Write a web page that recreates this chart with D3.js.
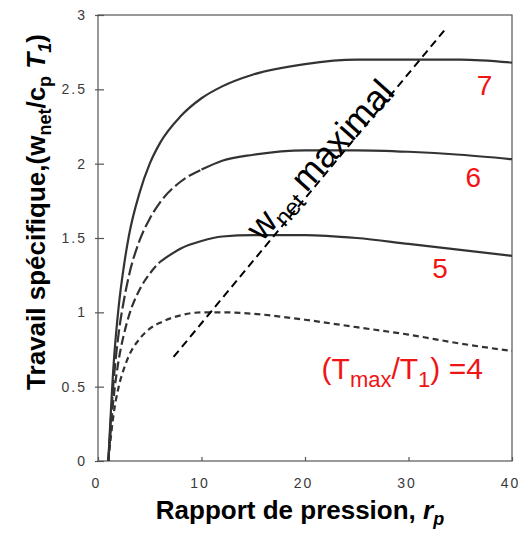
<!DOCTYPE html>
<html>
<head>
<meta charset="utf-8">
<script src="https://cdn.jsdelivr.net/npm/d3@7/dist/d3.min.js"></script>
<style>
    body { margin: 0; background: #fff; }
    svg { display: block; font-family: Arial, "Liberation Sans", sans-serif; }
    .tick text { fill: #3a3a3a; font-size: 14px; letter-spacing: 2px; }
</style>
</head>
<body>
<div class="chart"></div>
<script>
/* global d3 */

const rpValues = [1, 1.5, 2, 2.5, 3, 4, 5, 6, 8, 10, 12, 15, 20, 25, 30, 35, 40];
const work7 = [0, 0.64, 1.04, 1.31, 1.52, 1.80, 2.00, 2.14, 2.32, 2.44, 2.52, 2.60, 2.67, 2.70, 2.70, 2.70, 2.68];
const work6 = [0, 0.53, 0.86, 1.08, 1.25, 1.48, 1.63, 1.74, 1.88, 1.96, 2.02, 2.06, 2.09, 2.09, 2.08, 2.06, 2.03];
const work5 = [0, 0.42, 0.68, 0.85, 0.98, 1.15, 1.26, 1.34, 1.43, 1.48, 1.51, 1.52, 1.52, 1.50, 1.46, 1.42, 1.38];
const work4 = [0, 0.31, 0.50, 0.62, 0.71, 0.82, 0.89, 0.93, 0.98, 1.00, 1.00, 0.99, 0.95, 0.90, 0.85, 0.79, 0.74];

const ratioLabels = ['7', '6', '5'];
const ratioLabelPos = [[36.6, 2.46], [35.5, 1.84], [32.3, 1.23]];

const optimumLine = [[7.3, 0.70], [33.5, 2.90]];

const xTicks = [0, 10, 20, 30, 40];
const yTicks = [0, 0.5, 1, 1.5, 2, 2.5, 3];

const W = 530;
const H = 538;
const margin = {top: 15, right: 18, bottom: 77, left: 98};

let $svg;
let x;
let y;

function setupDOM(){
    $svg = d3.select('.chart')
        .append('svg')
        .attr('width', W)
        .attr('height', H);

    x = d3.scaleLinear().domain([0, 40]).range([margin.left, W - margin.right]);
    y = d3.scaleLinear().domain([0, 3]).range([H - margin.bottom, margin.top]);
}

function drawAxes(){
    // frame
    $svg.append('rect')
        .attr('x', x(0))
        .attr('y', y(3))
        .attr('width', x(40) - x(0))
        .attr('height', y(0) - y(3))
        .attr('fill', 'none')
        .attr('stroke', '#555')
        .attr('stroke-width', 1.2);

    const $yAxis = $svg.append('g')
        .attr('transform', `translate(${x(0)},0)`)
        .call(d3.axisLeft(y).tickValues(yTicks).tickSize(0).tickPadding(11)
            .tickFormat(d3.format('')));
    $yAxis.select('.domain').remove();
    $yAxis.selectAll('.tick')
        .append('line')
        .attr('x1', -3)
        .attr('x2', 6)
        .attr('stroke', '#555')
        .attr('stroke-width', 1.2);

    const $xAxis = $svg.append('g')
        .attr('transform', `translate(0,${y(0)})`)
        .call(d3.axisBottom(x).tickValues(xTicks).tickSize(-4).tickPadding(17));
    $xAxis.select('.domain').remove();
    $xAxis.selectAll('.tick line').attr('stroke', '#555').attr('stroke-width', 1.2);
    $xAxis.selectAll('.tick text').attr('dx', -2);

    // axis titles
    const $xTitle = $svg.append('text')
        .attr('x', 300)
        .attr('y', 519)
        .attr('text-anchor', 'middle')
        .attr('font-size', 26)
        .attr('font-weight', 'bold')
        .attr('fill', '#000');
    $xTitle.append('tspan').text('Rapport de pression, ');
    $xTitle.append('tspan').attr('font-style', 'italic').text('r');
    $xTitle.append('tspan').attr('font-style', 'italic').attr('font-size', 18).attr('dy', 6).text('p');

    const $yTitle = $svg.append('text')
        .attr('transform', 'translate(45,212) rotate(-90)')
        .attr('text-anchor', 'middle')
        .attr('font-size', 26)
        .attr('font-weight', 'bold')
        .attr('fill', '#000');
    $yTitle.append('tspan').text('Travail spécifique,(w');
    $yTitle.append('tspan').attr('font-size', 18).attr('dy', 6).text('net');
    $yTitle.append('tspan').attr('dy', -6).text('/c');
    $yTitle.append('tspan').attr('font-size', 18).attr('dy', 6).text('p');
    $yTitle.append('tspan').attr('dy', -6).attr('font-style', 'italic').text(' T');
    $yTitle.append('tspan').attr('font-size', 18).attr('dy', 6).attr('font-style', 'italic').text('1');
    $yTitle.append('tspan').attr('dy', -6).text(')');
}

function drawCurves(){
    const line = d3.line()
        .x(d => x(d[0]))
        .y(d => y(d[1]))
        .curve(d3.curveMonotoneX);

    // each curve: values, rp where the dash stops, dash pattern
    const curves = [
        {values: work7, split: 1, dash: null},
        {values: work6, split: 10, dash: '13,4'},
        {values: work5, split: 6, dash: '9,4'},
        {values: work4, split: 40, dash: '6,4'}
    ];

    curves.forEach(c => {
        const pts = rpValues.map((rp, i) => [rp, c.values[i]]);
        const dashed = pts.filter(p => p[0] <= c.split);
        const solid = pts.filter(p => p[0] >= c.split);

        if (dashed.length > 1) {
            $svg.append('path')
                .attr('d', line(dashed))
                .attr('fill', 'none')
                .attr('stroke', '#333')
                .attr('stroke-width', 2.2)
                .attr('stroke-dasharray', c.dash);
        }
        if (solid.length > 1) {
            $svg.append('path')
                .attr('d', line(solid))
                .attr('fill', 'none')
                .attr('stroke', '#333')
                .attr('stroke-width', 2.2);
        }
    });

    $svg.append('path')
        .attr('d', d3.line().x(d => x(d[0])).y(d => y(d[1]))(optimumLine))
        .attr('fill', 'none')
        .attr('stroke', '#000')
        .attr('stroke-width', 2)
        .attr('stroke-dasharray', '8,5');
}

function drawLabels(){
    $svg.selectAll('.ratio-label')
        .data(ratioLabels)
        .enter()
        .append('text')
        .attr('class', 'ratio-label')
        .attr('x', (d, i) => x(ratioLabelPos[i][0]))
        .attr('y', (d, i) => y(ratioLabelPos[i][1]))
        .attr('font-size', 28)
        .attr('fill', '#f01414')
        .text(d => d);

    const $four = $svg.append('text')
        .attr('x', x(21.6))
        .attr('y', y(0.55))
        .attr('font-size', 30)
        .attr('fill', '#f01414');
    $four.append('tspan').text('(T');
    $four.append('tspan').attr('font-size', 22).attr('dy', 8).text('max');
    $four.append('tspan').attr('dy', -8).text('/T');
    $four.append('tspan').attr('font-size', 22).attr('dy', 8).text('1');
    $four.append('tspan').attr('dy', -8).text(') =4');

    const $wmax = $svg.append('text')
        .attr('transform', `translate(${x(15.85)},${y(1.47)}) rotate(-48)`)
        .attr('font-size', 36)
        .attr('fill', '#000');
    $wmax.append('tspan').text('w');
    $wmax.append('tspan').attr('font-size', 24).attr('dy', 7).text('net');
    $wmax.append('tspan').attr('dy', -7).attr('dx', 7).text('maximal');
}

function init(){
    setupDOM();
    drawAxes();
    drawCurves();
    drawLabels();
}

init();
</script>
</body>
</html>
